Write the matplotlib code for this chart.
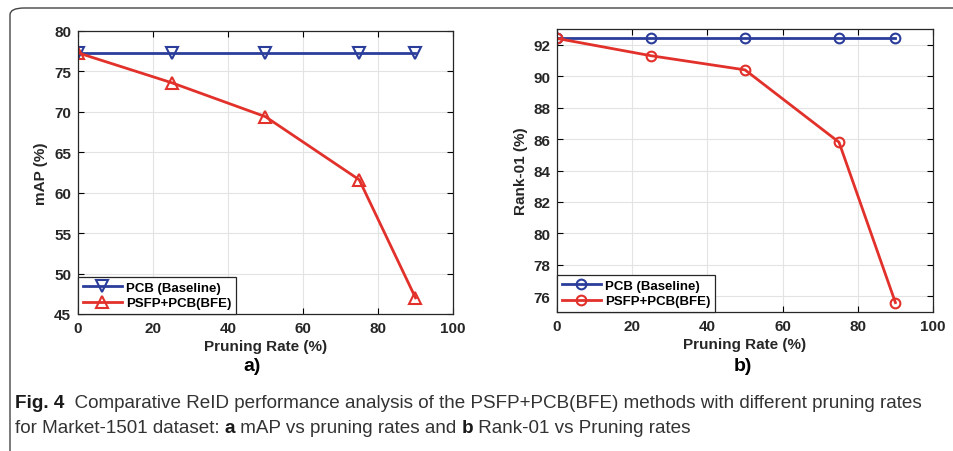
import numpy as np
import matplotlib
matplotlib.use('Agg')
import matplotlib.pyplot as plt
from matplotlib.patches import FancyBboxPatch

# data
rates = [0, 25, 50, 75, 90]
map_pcb = [77.3, 77.3, 77.3, 77.3, 77.3]
map_psfp = [77.3, 73.6, 69.4, 61.6, 47.0]
rank1_pcb = [92.4, 92.4, 92.4, 92.4, 92.4]
rank1_psfp = [92.4, 91.3, 90.4, 85.8, 75.6]
legend_labels = ['PCB (Baseline)', 'PSFP+PCB(BFE)']

BLUE = '#2b3d9b'
RED = '#e2302a'
W, H = 954, 452

plt.rcParams['font.family'] = ['Liberation Sans', 'DejaVu Sans']
fig = plt.figure(figsize=(9.54, 4.52), dpi=100)

def px_axes(l, t, r, b):
    return fig.add_axes([l / W, 1 - b / H, (r - l) / W, (b - t) / H])

def style(ax, ylim, yticks, ylabel):
    ax.set_xlim(0, 100)
    ax.set_ylim(*ylim)
    ax.set_xticks(np.arange(0, 101, 20))
    ax.set_yticks(yticks)
    ax.grid(True, color='#e3e3e3', linewidth=0.8)
    ax.set_axisbelow(True)
    ax.tick_params(direction='in', top=True, right=True, length=4, width=0.8,
                   labelsize=11, pad=5)
    for lab in ax.get_xticklabels() + ax.get_yticklabels():
        lab.set_fontweight('bold')
        lab.set_color('#262626')
    for sp in ax.spines.values():
        sp.set_color('#262626')
        sp.set_linewidth(0.9)
    ax.set_xlabel('Pruning Rate (%)', fontsize=11, fontweight='bold', color='#262626', labelpad=3)
    ax.set_ylabel(ylabel, fontsize=11, fontweight='bold', color='#262626', labelpad=4)
    leg = ax.legend(loc='lower left', borderaxespad=0, fancybox=False, framealpha=1,
                    edgecolor='#262626', prop={'weight': 'bold', 'size': 9.5},
                    handlelength=3.0, borderpad=0.35, labelspacing=0.25, handletextpad=0.3)
    leg.get_frame().set_linewidth(0.9)

ax1 = px_axes(78, 32, 453, 315)
ax1.plot(rates, map_pcb, color=BLUE, lw=2, marker='v', ms=8, mfc='none', mew=1.5, label=legend_labels[0])
ax1.plot(rates, map_psfp, color=RED, lw=2, marker='^', ms=8, mfc='none', mew=1.5, label=legend_labels[1])
style(ax1, (45, 80), np.arange(45, 81, 5), 'mAP (%)')

ax2 = px_axes(557, 30, 933, 313)
ax2.plot(rates, rank1_pcb, color=BLUE, lw=2, marker='o', ms=7, mfc='none', mew=1.5, label=legend_labels[0])
ax2.plot(rates, rank1_psfp, color=RED, lw=2, marker='o', ms=7, mfc='none', mew=1.5, label=legend_labels[1])
style(ax2, (75, 93), np.arange(76, 93, 2), 'Rank-01 (%)')

fig.text(252 / W, 1 - 367 / H, 'a)', fontsize=14, fontweight='bold', ha='center', va='center')
fig.text(743 / W, 1 - 367 / H, 'b)', fontsize=14, fontweight='bold', ha='center', va='center')

# caption, built piece by piece so the bold bits sit inline
renderer = fig.canvas.get_renderer()
CAP_SIZE = 13.6

def caption_line(y, parts, x=15):
    for s, w in parts:
        t = fig.text(x / W, 1 - y / H, s, fontsize=CAP_SIZE, va='center', fontweight=w,
                     color='#1a1a1a' if w == 'bold' else '#333333')
        x += t.get_window_extent(renderer=renderer).width

caption_line(404, [('Fig. 4', 'bold'),
                   ('  Comparative ReID performance analysis of the PSFP+PCB(BFE) methods with different pruning rates', 'normal')])
caption_line(429, [('for Market-1501 dataset: ', 'normal'), ('a', 'bold'), (' mAP vs pruning rates and ', 'normal'),
                   ('b', 'bold'), (' Rank-01 vs Pruning rates', 'normal')])

# outer rounded frame
frame = FancyBboxPatch((10 / W, -0.1), 1.2, 1 - 9 / H + 0.1, boxstyle='round,pad=0,rounding_size=0.015',
                       transform=fig.transFigure, fill=False, edgecolor='#444444', linewidth=1.0,
                       clip_on=False)
fig.patches.append(frame)

fig.savefig('out.png', dpi=100)
